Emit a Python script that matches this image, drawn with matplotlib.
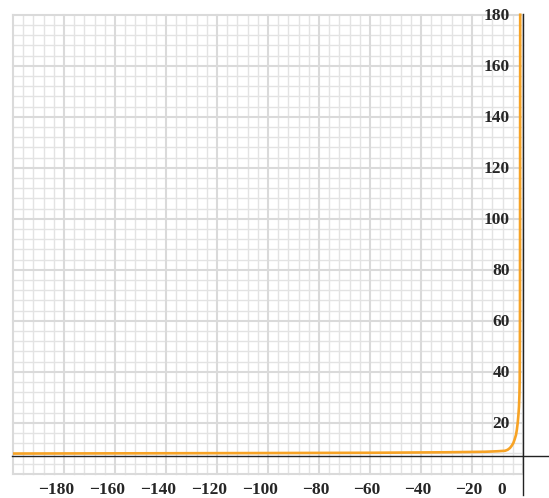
import matplotlib
matplotlib.use("Agg")
import matplotlib.pyplot as plt
import numpy as np

# Data
x_curve = [-200, -150, -100, -60, -30, -15, -10, -7, -6, -5.1, -4.4, -3.8, -3.3,
           -2.75, -2.4, -2.08, -1.8, -1.57, -1.4, -1.29, -1.22, -1.18, -1.1]
y_curve = [7.9, 8.0, 8.1, 8.2, 8.4, 8.6, 8.8, 9.0, 9.4, 10.1, 11.0, 12.0, 13.4,
           15.2, 17.3, 19.9, 23.0, 26.3, 31.0, 36.7, 50.0, 68.0, 180.5]
x_ticks = [-180, -160, -140, -120, -100, -80, -60, -40, -20]
x_zero_label = "0"
y_ticks = [20, 40, 60, 80, 100, 120, 140, 160, 180]

W, H = 549, 498
fig = plt.figure(figsize=(W / 100, H / 100), dpi=100)
ax = fig.add_axes([0, 0, 1, 1])
ax.set_axis_off()

s = 2.55          # px per unit
x0px, y0px = 523, 473.7
ax.set_xlim(-x0px / s, (W - x0px) / s)
ax.set_ylim((y0px - H) / s, y0px / s)

# grid
minor_c, major_c = "#e3e3e3", "#dadada"
for v in range(-200, 1, 4):
    major = v % 20 == 0
    ax.plot([v, v], [0, 180], color=major_c if major else minor_c,
            lw=1.5 if major else 1.0, zorder=1.5 if major else 1)
for v in range(0, 181, 4):
    major = v % 20 == 0
    ax.plot([-200, 0], [v, v], color=major_c if major else minor_c,
            lw=1.5 if major else 1.0, zorder=1.5 if major else 1)

# axes lines
xax_y = (y0px - 456) / s
ax.plot([-200.4, (W - x0px) / s], [xax_y, xax_y], color="#222222", lw=1.0, zorder=3)
ax.plot([0, 0], [(y0px - 495) / s, 180.3], color="#222222", lw=1.0, zorder=3)

# curve
ax.plot(x_curve, y_curve, color="#f7a325", lw=1.9, zorder=4,
        solid_capstyle="butt")

font = dict(family="Liberation Serif", fontweight="bold", fontsize=12.5, color="#262626")
for t in x_ticks:
    ax.text(t + 10 / s, (y0px - 490) / s, "\u2212" + str(abs(t)),
            ha="right", va="center", **font)
ax.text(-21 / s, (y0px - 490) / s, x_zero_label, ha="center", va="center", **font)
for t in y_ticks:
    ax.text(-13 / s, t - 1.2 / s, str(t), ha="right", va="center", **font)

fig.savefig("out.png", dpi=100)
